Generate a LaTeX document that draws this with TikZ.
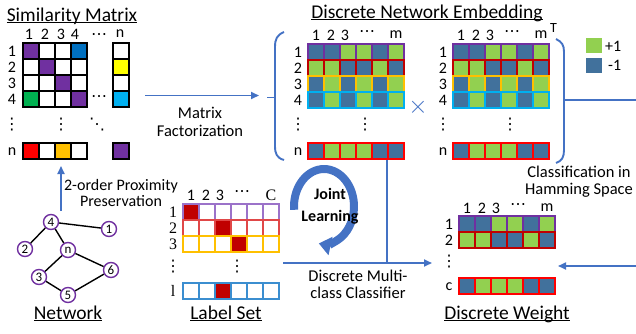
\documentclass[tikz,border=0pt]{standalone}
\usepackage{fontspec}
\setmainfont{Carlito}
\newfontfamily\lblserif{Liberation Serif}
\newfontfamily\dotfont{DejaVu Sans}
\usetikzlibrary{arrows.meta}

\definecolor{linkblue}{HTML}{4472C4}
\definecolor{bitP}{HTML}{92D050}
\definecolor{bitN}{HTML}{41719C}
\definecolor{simP}{HTML}{7030A0}
\definecolor{simB}{HTML}{0070C0}
\definecolor{simG}{HTML}{00B050}
\definecolor{simY}{HTML}{FFFF00}
\definecolor{simC}{HTML}{00B0F0}
\definecolor{simR}{HTML}{FF0000}
\definecolor{simO}{HTML}{FFC000}
\definecolor{rowA}{HTML}{7030A0}
\definecolor{rowB}{HTML}{C00000}
\definecolor{rowC}{HTML}{FFC000}
\definecolor{rowD}{HTML}{00B0F0}
\definecolor{rowN}{HTML}{FF0000}
\definecolor{lblA}{HTML}{9B72C9}
\definecolor{lblB}{HTML}{E04848}
\definecolor{lblC}{HTML}{FFC000}
\definecolor{lblD}{HTML}{3B8ED0}
\definecolor{lblF}{HTML}{C00000}

\newcommand{\vdts}{{\dotfont ⋮}}
\newcommand{\hdts}{{\dotfont ⋯}}
\newcommand{\ddts}{{\dotfont ⋱}}
\newcommand{\ttlrule}[1]{\setbox0\hbox{#1}\rlap{\rule[-2pt]{\wd0}{1.2pt}}\box0}

% one row of cells: x0, y0, frame colour, fills
\newcommand{\bitrow}[4]{%
  \foreach \f [count=\i from 0] in {#4}
    \draw[bit, draw=#3, fill=\f] ({#1+16*\i},#2) rectangle ++(16,16);}
% column numbers above a matrix: x0, y, prefix, last label
\newcommand{\colhead}[4]{%
  \node[lbl] (#3c1) at ({#1+8},#2) {1};
  \node[lbl] (#3c2) at ({#1+23},#2) {2};
  \node[lbl] (#3c3) at ({#1+37},#2) {3};
  \node[lbl] (#3cd) at ({#1+59},{#2-1.5}) {\hdts};
  \node[lbl] (#3cm) at ({#1+88},#2) {#4};}
% similarity matrix row: y0, fills, last column fill
\newcommand{\simrow}[3]{%
  \foreach \f [count=\i from 0] in {#2}
    \draw[simcell, fill=\f] ({23+16*\i},#1) rectangle ++(16,16);
  \draw[simcell, fill=#3] (113,#1) rectangle ++(16,16);}
% embedding matrix: x0, prefix
\newcommand{\embmat}[2]{%
  \bitrow{#1}{44}{rowA}{bitN,bitN,bitP,bitP,bitN,bitP}
  \bitrow{#1}{60}{rowB}{bitP,bitP,bitN,bitN,bitP,bitN}
  \bitrow{#1}{76}{rowC}{bitN,bitP,bitN,bitP,bitN,bitP}
  \bitrow{#1}{92}{rowD}{bitN,bitP,bitN,bitP,bitN,bitP}
  \bitrow{#1}{143}{rowN}{bitN,bitP,bitP,bitP,bitN,bitN}
  \colhead{#1}{35}{#2}{m}
  \foreach \r/\y [count=\k] in {1/52,2/68,3/84,4/100,n/152}
    \node[lbl] (#2r\k) at ({#1-10},\y) {\r};
  \node[lbl] (#2v1) at ({#1-10},125) {\vdts};
  \node[lbl] (#2v2) at ({#1+57},125) {\vdts};}

\begin{document}
\begin{tikzpicture}[x=1pt, y=-1pt,
    lbl/.style={inner sep=0pt, font=\fontsize{16}{16}\selectfont},
    note/.style={align=center, inner sep=0pt, font=\fontsize{16.5}{17}\selectfont},
    ttl/.style={inner sep=0pt, anchor=base, font=\fontsize{19.5}{22}\selectfont},
    bit/.style={line width=1.3pt},
    simcell/.style={draw=black, line width=1.6pt},
    link/.style={draw=linkblue, line width=1.7pt},
    flow/.style={link, -{Triangle[length=8pt, width=7pt]}},
    brc/.style={draw=linkblue, line width=1.9pt},
    vtx/.style={circle, draw=simP, line width=1.4pt, fill=white, inner sep=0pt,
                minimum size=15pt, font=\fontsize{13}{13}\selectfont},
    tie/.style={line width=1.4pt}]
  \useasboundingbox (0,0) rectangle (636,333);

  % similarity matrix
  \node[ttl] (simT) at (72,21) {\ttlrule{Similarity Matrix}};
  \simrow{43}{simP,white,white,simB}{white}
  \simrow{59}{white,simP,white,white}{simY}
  \simrow{75}{white,white,simP,white}{white}
  \simrow{91}{simG,white,white,simP}{simC}
  \simrow{143}{simR,white,simO,white}{simP}
  \foreach \t/\x [count=\k] in {1/29,2/45,3/61,4/75,n/120}
    \node[lbl] (simc\k) at (\x,34) {\t};
  \node[lbl] (simcd) at (99,37) {\hdts};
  \foreach \t/\y [count=\k] in {1/51.5,2/67.5,3/83.5,4/99.5,n/152}
    \node[lbl] (simr\k) at (12,\y) {\t};
  \node[lbl] (simh4) at (99,99) {\hdts};
  \node[lbl] (simv1) at (12,125) {\vdts};
  \node[lbl] (simv2) at (61,125) {\vdts};
  \node[lbl] (simdd) at (97,125) {\ddts};

  % network
  \node[vtx] (v4) at (51,222) {4};
  \node[vtx] (v1) at (109,229) {1};
  \node[vtx] (v2) at (25,249) {2};
  \node[vtx] (vn) at (68,250) {n};
  \node[vtx] (v6) at (111,270) {6};
  \node[vtx] (v3) at (39,277) {3};
  \node[vtx] (v5) at (68,295) {5};
  \draw[tie] (v4) -- (v1) (v4) -- (v2) (v4) -- (vn) (vn) -- (v3)
             (vn) -- (v6) (v3) -- (v5) (v5) -- (v6);
  \node[ttl] (netT) at (68,319) {\ttlrule{Network}};
  \coordinate (ppS) at (61,211);
  \coordinate (ppE) at (61,166);
  \draw[flow] (ppS) -- (ppE);
  \node[note, font=\fontsize{16}{16}\selectfont] (pp) at (121,193) {2-order Proximity\\Preservation};

  % discrete network embedding
  \node[ttl] (embT) at (427,18) {\ttlrule{Discrete Network Embedding}};
  \embmat{308}{eL}
  \embmat{453}{eR}
  \node[inner sep=0pt, font=\fontsize{14}{14}\selectfont] (tr) at (553.5,28.5) {T};
  \node[inner sep=0pt, text=linkblue, font=\fontsize{24}{24}\selectfont] (times) at (418,107) {$\times$};
  \draw[brc] (284,32) .. controls (277,35) and (275,39) .. (275,47) -- (275,146)
             .. controls (275,154) and (277,158) .. (284,160);
  \coordinate (lbrT) at (267,97.5);
  \coordinate (lbrM) at (275,97.5);
  \draw[brc] (lbrT) -- (lbrM);
  \draw[brc] (556,39) .. controls (562,42) and (564,45) .. (564,52) -- (564,150)
             .. controls (564,157) and (562,161) .. (556,163);
  \coordinate (rbrM) at (564,100);
  \coordinate (rOut) at (636,100);
  \draw[link] (rbrM) -- (rOut);

  % legend
  \fill[bitP] (586,38) rectangle (602,53);
  \node[lbl, anchor=west] (plus) at (605,46) {+1};
  \fill[bitN] (586,58) rectangle (602,73);
  \node[lbl, anchor=west] (minus) at (608,65.5) {-1};

  % matrix factorization
  \coordinate (mfS) at (145,95.5);
  \coordinate (mfE) at (259,95.5);
  \draw[flow] (mfS) -- (mfE);
  \node[note, font=\fontsize{16.5}{18}\selectfont] (mf) at (200,122) {Matrix\\Factorization};

  % label set
  \bitrow{183}{204}{lblA}{lblF,white,white,white,white,white}
  \bitrow{183}{220}{lblB}{white,white,lblF,white,white,white}
  \bitrow{183}{236}{lblC}{white,white,white,lblF,white,white}
  \bitrow{183}{283}{lblD}{white,white,lblF,white,white,white}
  \colhead{183}{195}{ls}{\lblserif C}
  \foreach \t/\y [count=\k] in {1/212,2/228,3/244,l/291}
    \node[lbl, font=\lblserif\fontsize{16}{16}\selectfont] (lsr\k) at (173,\y) {\t};
  \node[lbl] (lsv1) at (173,267) {\vdts};
  \node[lbl] (lsv2) at (237,267) {\vdts};
  \node[ttl] (lsT) at (226,319) {\ttlrule{Label Set}};

  % joint learning
  \draw[draw=linkblue, line width=8pt, -{Triangle[length=12pt, width=18pt]}]
    (324,206.5) ++(175:30 and 37.5) arc[start angle=175, end angle=460, x radius=30, y radius=37.5];
  \node[align=center, inner sep=0pt, font=\bfseries\fontsize{16}{22}\selectfont] (joint) at (330,206) {Joint\\Learning};

  % discrete weight
  \bitrow{459}{216}{rowA}{bitN,bitN,bitP,bitP,bitN,bitP}
  \bitrow{459}{232}{rowB}{bitP,bitP,bitN,bitN,bitP,bitN}
  \bitrow{459}{278}{rowN}{bitN,bitP,bitP,bitP,bitN,bitN}
  \colhead{459}{208}{wt}{m}
  \node[lbl] (wtr1) at (449,224) {1};
  \node[lbl] (wtr2) at (449,240) {2};
  \node[lbl] (wtv) at (449,262) {\vdts};
  \node[lbl] (wtr3) at (449,287) {c};
  \node[ttl] (wtT) at (507,319) {\ttlrule{Discrete Weight}};

  % classifier links
  \coordinate (embB) at (387,160);
  \coordinate (clsJ) at (387,263);
  \coordinate (lsR) at (283,263);
  \coordinate (wtL) at (432,263);
  \draw[link] (embB) -- (clsJ);
  \draw[flow] (lsR) -- (wtL);
  \node[note] (cls) at (358,284) {Discrete Multi-\\class Classifier};
  \coordinate (rIn) at (636,266);
  \coordinate (wtR) at (558,266);
  \draw[flow] (rIn) -- (wtR);
  \node[note] (ham) at (579,182) {Classification in\\Hamming Space};
\end{tikzpicture}
\end{document}
